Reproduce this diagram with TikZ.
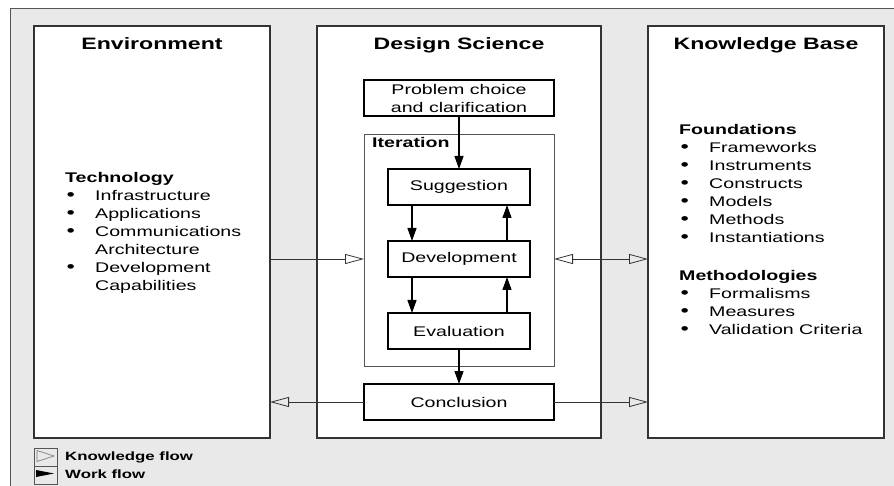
\documentclass[tikz,border=0pt]{standalone}
\usepackage{fontspec}
\setmainfont{Liberation Sans}[FakeStretch=1.4]
\usetikzlibrary{arrows.meta}
\definecolor{bggrey}{HTML}{E9E9E9}
\definecolor{boxc}{HTML}{333333}
\definecolor{edgec}{HTML}{555555}
\newcommand{\bul}{\hspace{1.5pt}{\fontsize{17}{18}\selectfont\textbullet}}
\begin{document}
\begin{tikzpicture}[x=1pt,y=-1pt,
  panel/.style={draw=boxc, line width=1.3pt, fill=white, inner sep=0pt, outer sep=0pt, anchor=north west},
  stepbox/.style={draw=black, line width=1.7pt, fill=white, inner sep=0pt, outer sep=0pt,
     minimum height=36pt, align=center, font=\fontsize{14}{18}\selectfont},
  iterbox/.style={draw=edgec, line width=0.9pt, inner sep=0pt, outer sep=0pt, anchor=north west},
  title/.style={font=\fontsize{16.5}{20}\selectfont\bfseries, anchor=base, inner sep=0pt},
  listtext/.style={font=\fontsize{14}{18}\selectfont, anchor=base west, inner sep=0pt, align=left},
  legtext/.style={font=\fontsize{12}{14}\selectfont\bfseries, anchor=base west, inner sep=0pt},
  legbox/.style={draw=edgec, line width=0.9pt, minimum width=23pt, minimum height=18pt, inner sep=0pt, outer sep=0pt, anchor=north west},
  work/.style={-{Triangle[length=13pt,width=9pt]}, line width=1.2pt, draw=black},
  know/.style={-{Triangle[open,length=19pt,width=10pt]}, line width=0.8pt, draw=boxc},
  knowboth/.style={{Triangle[open,length=19pt,width=10pt]}-{Triangle[open,length=19pt,width=10pt]}, line width=0.8pt, draw=boxc}
]
\useasboundingbox (0,0) rectangle (894,486);
\fill[white] (0,0) rectangle (894,486);
\draw[fill=bggrey, draw=edgec, line width=0.9pt] (10,8) rectangle (904,500);

% three panels
\node[panel, minimum width=236pt, minimum height=412pt] (env) at (34,26) {};
\node[panel, minimum width=284pt, minimum height=412pt] (ds) at (317,26) {};
\node[panel, minimum width=236pt, minimum height=412pt] (kb) at (648,26) {};

\node[title] (envt) at (152,50) {Environment};
\node[title] (dst) at (459,50) {Design Science};
\node[title] (kbt) at (766,50) {Knowledge Base};

% environment list
\node[listtext] (envlist) at (65,183) {%
  \begin{tabular}[t]{@{}p{30pt}@{}l@{}}
  \multicolumn{2}{@{}l@{}}{\bfseries Technology}\\
  \bul & Infrastructure\\
  \bul & Applications\\
  \bul & Communications\\
   & Architecture\\
  \bul & Development\\
   & Capabilities
  \end{tabular}};

% knowledge base list
\node[listtext] (kblist) at (679,135) {%
  \begin{tabular}[t]{@{}p{30pt}@{}l@{}}
  \multicolumn{2}{@{}l@{}}{\bfseries Foundations}\\
  \bul & Frameworks\\
  \bul & Instruments\\
  \bul & Constructs\\
  \bul & Models\\
  \bul & Methods\\
  \bul & Instantiations\\[20pt]
  \multicolumn{2}{@{}l@{}}{\bfseries Methodologies}\\
  \bul & Formalisms\\
  \bul & Measures\\
  \bul & Validation Criteria
  \end{tabular}};

% design science inner boxes
\node[stepbox, minimum width=190pt] (prob) at (459,98) {Problem choice\\and clarification};
\node[iterbox, minimum width=190pt, minimum height=232pt] (iter) at (364,134) {};
\node[font=\fontsize{14}{18}\selectfont\bfseries, anchor=base west, inner sep=0pt] (itert) at (372,148) {Iteration};
\node[stepbox, minimum width=142pt] (sug) at (459,187) {Suggestion};
\node[stepbox, minimum width=142pt] (dev) at (459,259) {Development};
\node[stepbox, minimum width=142pt] (eval) at (459,331) {Evaluation};
\node[stepbox, minimum width=190pt] (concl) at (459,402) {Conclusion};

% work flow
\draw[work] (prob.south) -- (sug.north);
\draw[work] ([xshift=-47pt]sug.south) -- ([xshift=-47pt]dev.north);
\draw[work] ([xshift=48pt]dev.north) -- ([xshift=48pt]sug.south);
\draw[work] ([xshift=-47pt]dev.south) -- ([xshift=-47pt]eval.north);
\draw[work] ([xshift=48pt]eval.north) -- ([xshift=48pt]dev.south);
\draw[work] (eval.south) -- (concl.north);

% knowledge flow
\draw[know] (env.east |- dev.west) -- (iter.west |- dev.west);
\draw[knowboth] (iter.east |- dev.east) -- (kb.west |- dev.east);
\draw[know] (concl.west) -- (env.east |- concl.west);
\draw[know] (concl.east) -- (kb.west |- concl.east);

% legend
\node[legbox] (lg1) at (34,448) {};
\node[legbox] (lg2) at (34,466) {};
\draw[draw=gray, line width=0.7pt] (37,450.5) -- (54,456) -- (37,461.5) -- cycle;
\fill[black] (36,470) -- (54,473.5) -- (36,477) -- cycle;
\node[legtext] (lgt1) at (65,460) {Knowledge flow};
\node[legtext] (lgt2) at (65,478) {Work flow};
\end{tikzpicture}
\end{document}
